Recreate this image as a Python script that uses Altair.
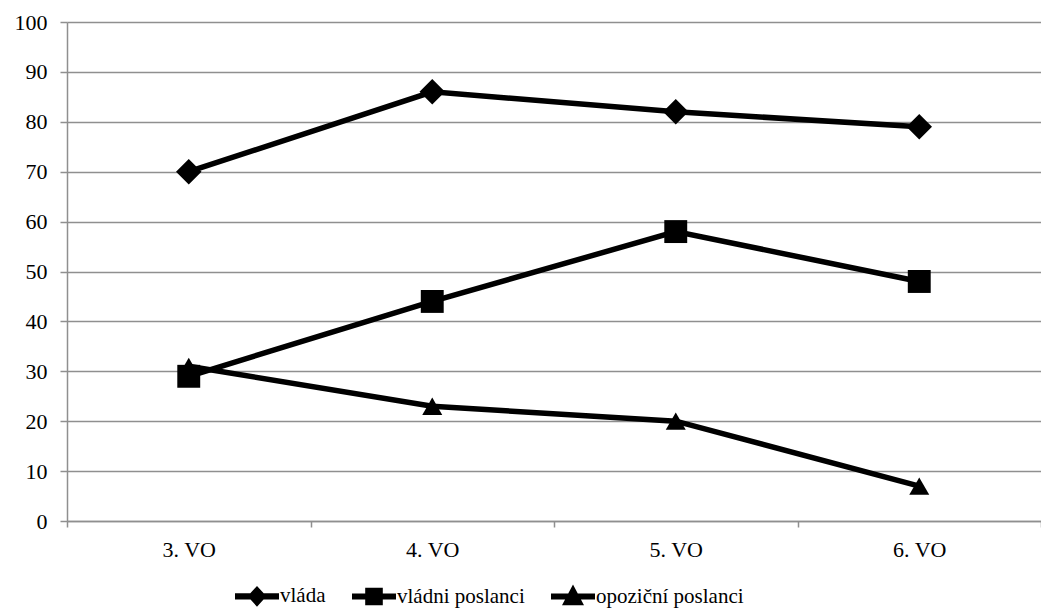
import altair as alt
import pandas as pd

# Survey rounds (x categories)
rounds = ["3. VO", "4. VO", "5. VO", "6. VO"]

# Series names and their values per round (%)
series_names = ["vláda", "vládni poslanci", "opoziční poslanci"]
vlada = [70, 86, 82, 79]
vladni_poslanci = [29, 44, 58, 48]
opozicni_poslanci = [31, 23, 20, 7]

y_ticks = list(range(0, 101, 10))

rows = []
for name, vals in zip(series_names, [vlada, vladni_poslanci, opozicni_poslanci]):
    for r, v in zip(rounds, vals):
        rows.append({"kolo": r, "skupina": name, "hodnota": v})
df = pd.DataFrame(rows)

FONT = "Liberation Serif"
GRID = "#8f8f8f"

x_enc = alt.X(
    "kolo:N",
    sort=rounds,
    scale=alt.Scale(domain=rounds, paddingInner=0, paddingOuter=0),
    axis=alt.Axis(
        title=None, labelAngle=0, tickBand="extent", tickSize=6,
        tickColor=GRID, tickWidth=1.5, domainColor=GRID, domainWidth=1.5,
        labelFont=FONT, labelFontSize=22, labelColor="black", labelPadding=12,
        grid=False,
    ),
)
y_enc = alt.Y(
    "hodnota:Q",
    scale=alt.Scale(domain=[0, 100], nice=False),
    axis=alt.Axis(
        title=None, values=y_ticks, grid=True, gridColor=GRID, gridWidth=1.5,
        tickSize=7, tickColor=GRID, tickWidth=1.5, domainColor=GRID, domainWidth=1.5,
        labelFont=FONT, labelFontSize=22, labelColor="black", labelPadding=13,
        labelOverlap=False,
    ),
)

base = alt.Chart(df)

lines = base.mark_line(color="black", strokeWidth=5.5).encode(
    x=x_enc, y=y_enc, detail="skupina:N"
)

points = base.mark_point(filled=True, color="black", opacity=1).encode(
    x=x_enc,
    y=y_enc,
    shape=alt.Shape(
        "skupina:N",
        scale=alt.Scale(domain=series_names, range=["diamond", "square", "triangle-up"]),
        legend=None,
    ),
    size=alt.Size(
        "skupina:N",
        scale=alt.Scale(domain=series_names, range=[650, 400, 800]),
        legend=None,
    ),
)

# Legend symbols: a thick line with the series marker in the middle
legend_paths = [
    "M-1,-0.14H1V0.14H-1Z M0,-0.47L0.43,0L0,0.47L-0.43,0Z",
    "M-1,-0.14H1V0.14H-1Z M-0.4,-0.4H0.4V0.4H-0.4Z",
    "M-1,-0.14H1V0.14H-1Z M0,-0.55L0.5,0.4L-0.5,0.4Z",
]

legend_layer = base.transform_filter("datum.hodnota < 0").mark_point(
    filled=True, color="black"
).encode(
    x=x_enc,
    y=y_enc,
    shape=alt.Shape(
        "skupina:N",
        sort=series_names,
        scale=alt.Scale(domain=series_names, range=legend_paths),
        legend=alt.Legend(
            title=None, orient="none", direction="horizontal",
            legendX=168, legendY=552, padding=0,
            symbolSize=1936, symbolFillColor="black", symbolStrokeWidth=0,
            symbolOpacity=1, labelOffset=1, columnPadding=26,
            labelFont=FONT, labelFontSize=21, labelColor="black",
        ),
    ),
)

chart = (
    alt.layer(lines, points, legend_layer)
    .resolve_scale(shape="independent", size="independent")
    .properties(
        width=974,
        height=499,
        autosize=alt.AutoSizeParams(type="none"),
        padding={"left": 67, "top": 22, "right": 0, "bottom": 93},
        background="white",
    )
    .configure_view(stroke=None)
)

chart.save("out.html", embed_options={"renderer": "svg", "actions": False})
